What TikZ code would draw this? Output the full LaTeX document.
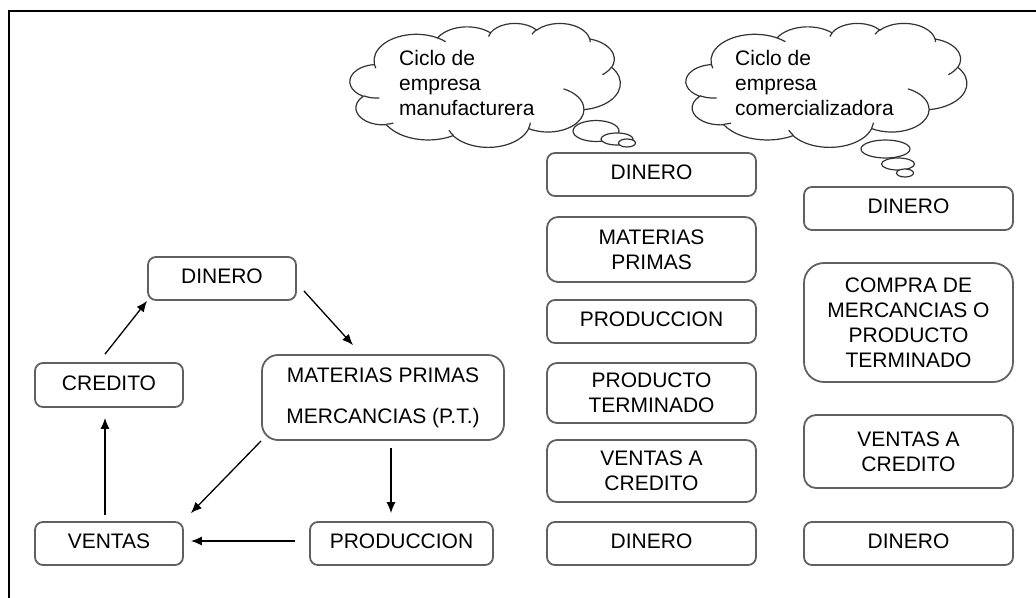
\documentclass[tikz,border=0pt]{standalone}
\usepackage{fontspec}
\setmainfont{Liberation Sans}
\usetikzlibrary{shapes.geometric,arrows.meta}
\definecolor{boxgray}{HTML}{606060}
\definecolor{cloudgray}{HTML}{333333}
% arc of an ellipse given by visual start angle and sweep (DrawingML style)
\newcommand\carc[4]{arc[x radius=#1, y radius=#2, start angle={vis(#3,#1,#2)}, delta angle={mod(vis(#3+#4,#1,#2)-vis(#3,#1,#2)+720,360)}]}
\newcommand\cloudpath{(3900,14370)
  \carc{6753}{9190}{-190.4875}{123.7805}
  \carc{5333}{7267}{-144.1024}{89.9452}
  \carc{4365}{5945}{-145.8079}{99.7230}
  \carc{4857}{6595}{-130.9861}{117.2417}
  \carc{5333}{7273}{-78.7089}{109.0269}
  \carc{6775}{9220}{-46.2673}{130.2690}
  \carc{5785}{7867}{0.6250}{114.0333}
  \carc{6752}{9215}{22.4516}{115.1726}
  \carc{7720}{10543}{66.2426}{75.7110}
  \carc{4360}{5918}{-274.9421}{146.7356}
  \carc{4345}{5945}{-246.8285}{152.5189} -- cycle}
\newcommand\cloudinner{(4693,26177) \carc{4345}{5945}{86.7420}{26.4295}
  (6928,34899) \carc{4360}{5918}{73.6105}{11.4475}
  (16478,39090) \carc{6752}{9215}{137.6242}{14.0811}
  (28827,34751) \carc{6752}{9215}{6.4533}{15.9984}
  (34129,22954) \carc{5785}{7867}{-70.2924}{70.9174}
  (41798,15354) \carc{5333}{7273}{30.3180}{27.7515}
  (38324,5426) \carc{4857}{6595}{-13.7443}{14.8589}
  (29078,3952) \carc{4857}{6595}{-149.1815}{18.1954}
  (22141,4720) \carc{4365}{5945}{-163.4943}{17.6864}
  (14000,5192) \carc{6753}{9190}{-66.7070}{12.3194}
  (4127,15789) \carc{6753}{9190}{157.6544}{11.8582}}
\begin{document}
\begin{tikzpicture}[x=1pt,y=-1pt,
  declare function={vis(\a,\rx,\ry)=atan2(\rx*sin(\a),\ry*cos(\a));},
  txt/.style={font=\fontsize{21}{25}\selectfont, text=black},
  rbox/.style={draw=boxgray, line width=1.8pt, rounded corners=#1, inner sep=0pt,
    align=center, txt},
  rbox/.default=8pt,
  oneline/.style={text height=15pt, text depth=5pt},
  arr/.style={draw=black, line width=1.3pt, -{Latex[length=11pt,width=9pt]}},
  cloudline/.style={draw=cloudgray, line width=1.2pt},
  bubble/.style={draw=cloudgray, line width=1.2pt, fill=white, ellipse, inner sep=0pt},
]
\useasboundingbox (0,0) rectangle (1036,597);
% frame
\draw[line width=2.2pt] (9,598) -- (9,11) -- (1037,11);

% left cycle
\node[rbox, oneline, minimum width=148pt, minimum height=43pt] (dinL) at (222,278.5) {DINERO};
\node[rbox, oneline, minimum width=148pt, minimum height=44pt] (cred) at (109,385) {CREDITO};
\node[rbox=16pt, minimum width=242pt, minimum height=85pt,
  font=\fontsize{21}{41}\selectfont] (mat) at (383,397.5) {MATERIAS PRIMAS\\MERCANCIAS (P.T.)};
\node[rbox, oneline, minimum width=148pt, minimum height=43pt] (vent) at (109,543.5) {VENTAS};
\node[rbox, oneline, minimum width=183pt, minimum height=43pt] (prodL) at (401.5,543.5) {PRODUCCION};

\draw[arr] ([shift={(-4,-8)}]cred.north) -- (dinL.south west);
\draw[arr] ([shift={(7,-10)}]dinL.south east) -- ([shift={(-30,-9)}]mat.north);
\draw[arr] (mat.south west) -- ([shift={(7,-8)}]vent.north east);
\draw[arr] ([shift={(8,7)}]mat.south) -- ([shift={(-10.5,-8)}]prodL.north);
\draw[arr] ([shift={(-14,-2.5)}]prodL.west) -- ([shift={(7,-2.5)}]vent.east);
\draw[arr] ([shift={(-4,-6)}]vent.north) -- ([shift={(-4,10)}]cred.south);

% middle column
\node[rbox, oneline, minimum width=209pt, minimum height=43pt] (m1) at (651.5,174.5) {DINERO};
\node[rbox=11pt, minimum width=209pt, minimum height=65pt] (m2) at (651.5,249.5) {MATERIAS\\PRIMAS};
\node[rbox, oneline, minimum width=209pt, minimum height=43pt] (m3) at (651.5,321.5) {PRODUCCION};
\node[rbox=10pt, minimum width=209pt, minimum height=60pt] (m4) at (651.5,393) {PRODUCTO\\TERMINADO};
\node[rbox=10pt, minimum width=209pt, minimum height=62pt] (m5) at (651.5,471) {VENTAS A\\CREDITO};
\node[rbox, oneline, minimum width=209pt, minimum height=43pt] (m6) at (651.5,543.5) {DINERO};

% right column
\node[rbox, oneline, minimum width=209pt, minimum height=43pt] (r1) at (908.5,208.5) {DINERO};
\node[rbox=20pt, minimum width=209pt, minimum height=119pt] (r2) at (908.5,322.5) {COMPRA DE\\MERCANCIAS O\\PRODUCTO\\TERMINADO};
\node[rbox=12pt, minimum width=209pt, minimum height=73pt] (r3) at (908.5,451.5) {VENTAS A\\CREDITO};
\node[rbox, oneline, minimum width=209pt, minimum height=43pt] (r4) at (908.5,543.5) {DINERO};

% cloud 1
\begin{scope}[shift={(350,23)}, x=0.00625pt, y=-0.0028704pt]
  \fill[white] \cloudpath;
  \draw[cloudline] \cloudpath;
  \draw[cloudline] \cloudinner;
\end{scope}
\node[bubble, minimum width=46pt, minimum height=21pt] (c1b1) at (596,131) {};
\node[bubble, minimum width=32pt, minimum height=12pt] (c1b2) at (617,139) {};
\node[bubble, minimum width=17pt, minimum height=8pt] (c1b3) at (627,143) {};
\node[txt, anchor=north west, align=left, inner sep=0pt] (t1) at (399,50) {Ciclo de\\empresa\\manufacturera};

% cloud 2
\begin{scope}[shift={(686,23)}, x=0.0065046pt, y=-0.0028704pt]
  \fill[white] \cloudpath;
  \draw[cloudline] \cloudpath;
  \draw[cloudline] \cloudinner;
\end{scope}
\node[bubble, minimum width=49pt, minimum height=18pt] (c2b1) at (885.5,149) {};
\node[bubble, minimum width=33pt, minimum height=12pt] (c2b2) at (898,164) {};
\node[bubble, minimum width=17pt, minimum height=8pt] (c2b3) at (905,173) {};
\node[txt, anchor=north west, align=left, inner sep=0pt] (t2) at (735,50) {Ciclo de\\empresa\\comercializadora};
\end{tikzpicture}
\end{document}
